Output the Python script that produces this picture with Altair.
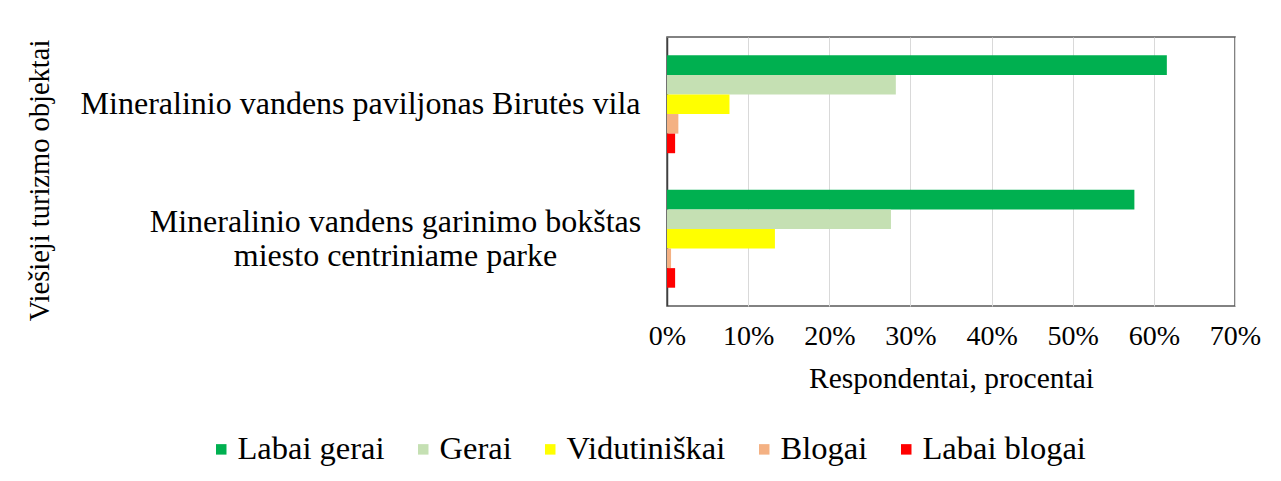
import altair as alt
import pandas as pd

categories = [
    "Mineralinio vandens paviljonas Birutės vila",
    "Mineralinio vandens garinimo bokštas\nmiesto centriniame parke",
]
series = ["Labai gerai", "Gerai", "Vidutiniškai", "Blogai", "Labai blogai"]
colors = ["#00B050", "#C5E0B3", "#FFFF00", "#F4B183", "#FF0000"]
values_birutes = [61.6, 28.2, 7.7, 1.4, 1.0]
values_bokstas = [57.6, 27.6, 13.3, 0.5, 1.0]
x_ticks = [0, 10, 20, 30, 40, 50, 60, 70]

rows = []
for cat, vals in zip(categories, [values_birutes, values_bokstas]):
    for s, v in zip(series, vals):
        rows.append({"objektas": cat, "vertinimas": s, "procentai": v})
df = pd.DataFrame(rows)

FONT = "Liberation Serif"
TWO_LINE = "indexof(datum.value, 'garinimo') >= 0"

chart = alt.Chart(df).mark_bar().encode(
    x=alt.X(
        "procentai:Q",
        scale=alt.Scale(domain=[0, 70], nice=False),
        axis=alt.Axis(
            values=x_ticks,
            labelExpr="datum.value + '%'",
            title="Respondentai, procentai",
            grid=True,
            gridColor="#D9D9D9",
            gridWidth=1,
            domain=False,
            ticks=False,
            tickSize=0,
            labelFlush=False,
            labelAlign="center",
            labelPadding=16,
            labelFontSize=28,
            titleFontSize=29.5,
            titlePadding=14,
            titleFontWeight="normal",
        ),
    ),
    y=alt.Y(
        "objektas:N",
        sort=categories,
        scale=alt.Scale(paddingInner=0.272, paddingOuter=0.136),
        axis=alt.Axis(
            title="Viešieji turizmo objektai",
            labelExpr="split(datum.label, '\\n')",
            labelAlign={"condition": {"test": TWO_LINE, "value": "center"}, "value": "right"},
            labelPadding={"condition": {"test": TWO_LINE, "value": 272}, "value": 27},
            labelOffset={"condition": {"test": TWO_LINE, "value": -17}, "value": 0},
            labelBaseline="middle",
            labelFontSize=32,
            labelLineHeight=34,
            labelLimit=0,
            ticks=False,
            tickSize=0,
            domain=True,
            domainColor="#404040",
            domainWidth=1.5,
            titleFontSize=28.5,
            titleFontWeight="normal",
            titleBaseline="middle",
            titleAnchor="middle",
            titleX=-628,
            titleY=143,
        ),
    ),
    yOffset=alt.YOffset(
        "vertinimas:N",
        sort=series,
        scale=alt.Scale(paddingInner=0, paddingOuter=0),
    ),
    color=alt.Color(
        "vertinimas:N",
        sort=series,
        scale=alt.Scale(domain=series, range=colors),
        legend=alt.Legend(
            orient="none",
            legendX=-462,
            legendY=396,
            direction="horizontal",
            title=None,
            symbolType="square",
            symbolSize=110,
            symbolStrokeWidth=0,
            labelFontSize=32.5,
            labelOffset=0,
            labelLimit=0,
            columnPadding=22,
            padding=0,
        ),
    ),
).properties(
    width=568,
    height=269,
    padding={"left": 659, "top": 29, "right": 38, "bottom": 160},
    autosize=alt.AutoSizeParams(type="none"),
).configure(
    font=FONT,
).configure_axis(
    labelFont=FONT,
    titleFont=FONT,
    labelColor="#000000",
    titleColor="#000000",
).configure_legend(
    labelFont=FONT,
    labelColor="#000000",
).configure_view(
    stroke="#595959",
    strokeWidth=1.5,
)

chart.save("out.html", embed_options={"renderer": "svg", "actions": False})
